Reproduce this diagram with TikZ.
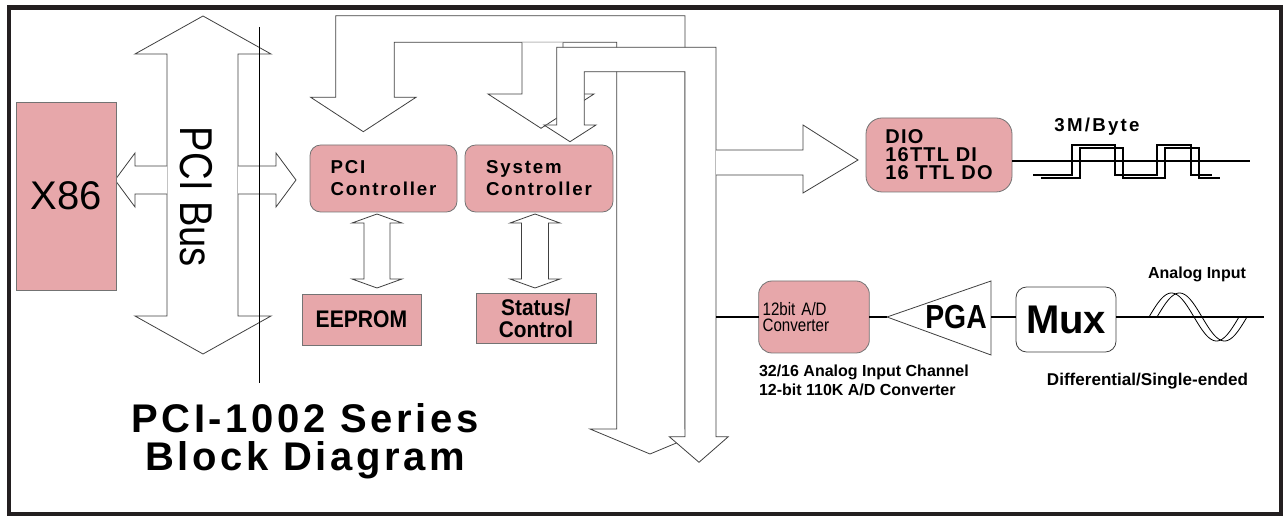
\documentclass[tikz,border=0pt]{standalone}
\usepackage{fontspec}
\setmainfont{Liberation Sans}
\usepackage{graphicx}
\definecolor{boxpink}{RGB}{231,167,170}
\definecolor{framegray}{RGB}{35,31,32}

\begin{document}
\begin{tikzpicture}[x=0.75pt,y=-0.75pt, outer sep=0pt, inner sep=1pt,
    busline/.style={draw=black!75, fill=white, line width=0.6pt},
    pinkbox/.style={draw=black!55, fill=boxpink, line width=0.6pt},
    wire/.style={line width=1.5pt},
    ctlfont/.style={font={\fontsize{14}{16.5}\selectfont\bfseries\addfontfeatures{LetterSpace=10}}},
    lbl/.style={font={\fontsize{12}{14}\selectfont\bfseries}}]
    \useasboundingbox (0,0) rectangle (1283,516);
    \draw[framegray, line width=3.4pt] (9,7.5) rectangle (1281,514.5);

    % PCI bus
    \draw[busline] (203,16) -- (271,54) -- (238,54) -- (238,316) -- (271,316) -- (203,354)
        -- (135,316) -- (167,316) -- (167,54) -- (135,54) -- cycle;
    \draw[busline] (167,166) -- (135,166) -- (135,153) -- (115,180) -- (135,207) -- (135,194) -- (167,194);
    \draw[busline] (238,166) -- (276,166) -- (276,153) -- (296,180) -- (276,207) -- (276,194) -- (238,194);
    \draw[black, line width=0.7pt] (259,27) -- (259,383);
    \node[rotate=-90, font={\fontsize{34.5}{36}\selectfont\addfontfeatures{FakeStretch=0.83}}] (pcibus) at (196.5,197) {PCI Bus};
    \node[pinkbox, minimum width=75pt, minimum height=141pt, font={\fontsize{30}{32}\selectfont}] (x86) at (66,196) {X86};

    % local bus
    \draw[busline] (335.7,15.7) -- (685,15.7) -- (685,429) -- (710,429) -- (650,454) -- (590,429)
        -- (616.7,429) -- (616.7,42.3) -- (394.3,42.3) -- (394.3,97.3) -- (416,97.3) -- (363.3,131.7)
        -- (310.7,97.3) -- (335.7,97.3) -- cycle;
    \draw[busline] (522,42.3) -- (522,94) -- (488,94) -- (541,128.3) -- (594,94) -- (563,94) -- (563,42.3);
    \draw[busline] (556.7,47.3) -- (716,47.3) -- (716,436.7) -- (728.3,436.7) -- (699,462.3) -- (669.3,436.7)
        -- (685,436.7) -- (685,71.7) -- (584.3,71.7) -- (584.3,125) -- (596,125) -- (570,141.7)
        -- (544,125) -- (556.7,125) -- cycle;
    \draw[busline] (716,150) -- (803,150) -- (803,125) -- (858,160) -- (803,193) -- (803,175) -- (716,175);
    \foreach \cx/\hw in {377/13, 535/13.5}
        \draw[busline] (\cx,214) -- (\cx+25,223) -- (\cx+\hw,223) -- (\cx+\hw,279) -- (\cx+25,279) -- (\cx,288)
            -- (\cx-25,279) -- (\cx-\hw,279) -- (\cx-\hw,223) -- (\cx-25,223) -- cycle;

    \node[pinkbox, rounded corners=8pt, minimum width=110.25pt, minimum height=50.25pt, align=left, ctlfont] (pcictl) at (383.5,178.5) {PCI\\Controller};
    \node[pinkbox, rounded corners=8pt, minimum width=111pt, minimum height=50.25pt, align=left, ctlfont] (sysctl) at (539,178.5) {System\\Controller};
    \node[pinkbox, minimum width=89.25pt, minimum height=38.25pt, font={\fontsize{18}{18}\selectfont\bfseries\addfontfeatures{FakeStretch=0.88}}] (eeprom) at (361.5,319.5) {EEPROM};
    \node[pinkbox, minimum width=90pt, minimum height=37.5pt, align=center, font={\fontsize{17}{16.5}\selectfont\bfseries\addfontfeatures{FakeStretch=0.92}}] (status) at (536,318) {Status/\\Control};

    % DIO
    \node[pinkbox, rounded corners=12pt, minimum width=109.5pt, minimum height=55.5pt, align=left, font={\fontsize{15}{13.5}\selectfont\bfseries\addfontfeatures{LetterSpace=6}}] (dio) at (939,155) {DIO\\16TTL DI\\16 TTL DO};
    \coordinate (dioend) at (1250,161);
    \draw[wire] (dioend -| dio.east) -- (dioend);
    \foreach \dx/\dy in {0/0, 8/3}
        \draw[line width=1.6pt] (1033+\dx,175+\dy) -- ++(39,0) -- ++(0,-30) -- ++(43,0) -- ++(0,30) -- ++(42,0)
            -- ++(0,-30) -- ++(34,0) -- ++(0,30) -- ++(21,0);
    \node[anchor=base, font={\fontsize{14}{15}\selectfont\bfseries\addfontfeatures{LetterSpace=12}}] (rate) at (1097,132) {3M/Byte};

    % analog input
    \coordinate (adtap) at (716,317);
    \coordinate (pgain) at (887,317);
    \coordinate (pgaout) at (991,317);
    \coordinate (ainend) at (1264,317);
    \node[pinkbox, rounded corners=10pt, text width=77pt, inner xsep=3pt, minimum height=54pt, align=left, font={\fontsize{13.5}{12.5}\selectfont\addfontfeatures{FakeStretch=0.84}}] (adc) at (814,317) {12bit A/D\\Converter};
    \draw[busline] (pgain) -- (991,281) -- (991,355) -- cycle;
    \node[font={\fontsize{25}{26}\selectfont\bfseries\addfontfeatures{FakeStretch=0.85}}] (pga) at (956,317) {PGA};
    \node[draw=black!75, fill=white, line width=0.6pt, rounded corners=8pt, minimum width=75pt, minimum height=48.75pt, font={\fontsize{30}{32}\selectfont\bfseries}] (mux) at (1066,319.5) {Mux};
    \draw[wire] (adtap) -- (adtap -| adc.west);
    \draw[wire] (adc.east |- pgain) -- (pgain);
    \draw[wire] (pgaout) -- (pgaout -| mux.west);
    \draw[wire] (mux.east |- ainend) -- (ainend);
    \foreach \dx in {0,8}
        \draw[line width=0.6pt] plot[domain=0:360, samples=60, smooth] ({1149+\dx+\x/4},{317-24*sin(\x)});
    \node[lbl, anchor=base] (ain) at (1197,279) {Analog Input};
    \node[lbl, anchor=base, font={\fontsize{12.8}{14}\selectfont\bfseries}] (mode) at (1147.5,386) {Differential/Single-ended};
    \node[lbl, anchor=north west, inner sep=0pt, align=left] (chan) at (759,365) {32/16 Analog Input Channel\\12-bit 110K A/D Converter};

    \node[align=center, font={\fontsize{30}{28.5}\selectfont\bfseries\addfontfeatures{LetterSpace=9}}] (title) at (305,441.5) {PCI-1002 Series\\Block Diagram};
\end{tikzpicture}
\end{document}
